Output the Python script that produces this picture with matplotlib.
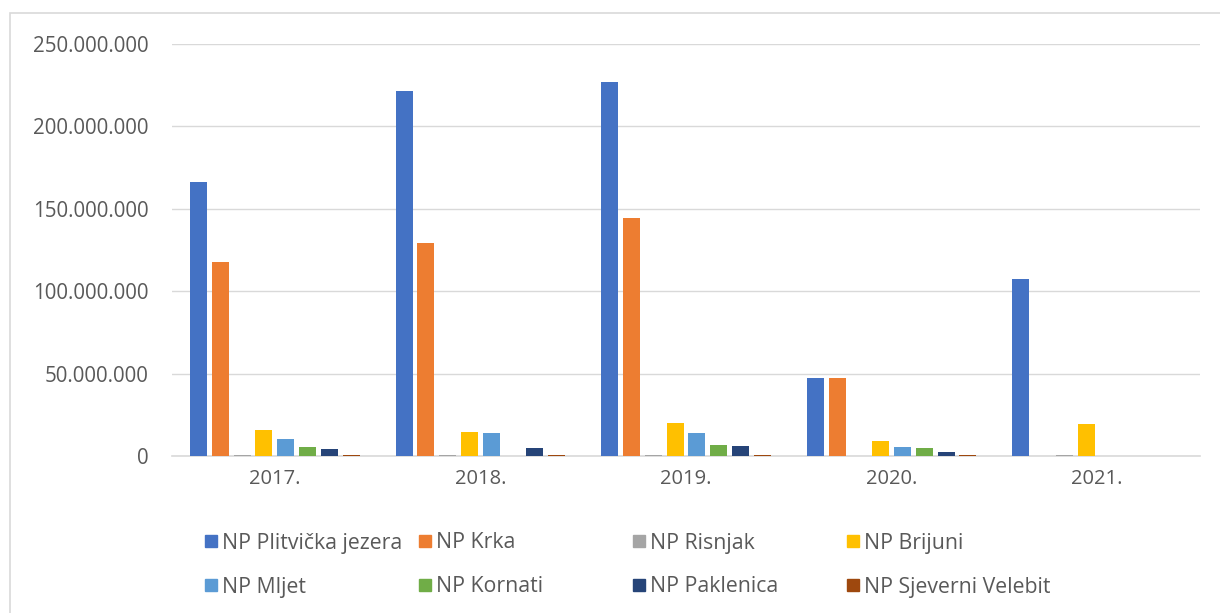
import matplotlib.pyplot as plt
import numpy as np
from matplotlib.patches import Rectangle
from matplotlib.ticker import FuncFormatter, MultipleLocator

plt.rcParams['font.family'] = ['Open Sans', 'DejaVu Sans']

# =========================
# Data
# =========================
godine = ["2017.", "2018.", "2019.", "2020.", "2021."]

parkovi = [
    "NP Plitvička jezera", "NP Krka", "NP Risnjak", "NP Brijuni",
    "NP Mljet", "NP Kornati", "NP Paklenica", "NP Sjeverni Velebit",
]

plitvice = [166_000_000, 221_500_000, 227_000_000, 47_300_000, 107_300_000]
krka = [118_000_000, 129_000_000, 144_500_000, 47_300_000, 0]
risnjak = [400_000, 400_000, 400_000, 300_000, 500_000]
brijuni = [15_800_000, 14_800_000, 19_900_000, 9_200_000, 19_300_000]
mljet = [10_200_000, 14_000_000, 14_200_000, 5_500_000, 0]
kornati = [5_300_000, 0, 6_500_000, 4_700_000, 0]
paklenica = [4_300_000, 4_900_000, 6_100_000, 2_500_000, 0]
sjeverni_velebit = [400_000, 500_000, 500_000, 400_000, 0]

serije = [plitvice, krka, risnjak, brijuni, mljet, kornati, paklenica, sjeverni_velebit]

boje = ["#4472C4", "#ED7D31", "#A5A5A5", "#FFC000",
        "#5B9BD5", "#70AD47", "#264478", "#9E480E"]

TEXT_COLOR = "#595959"
GRID_COLOR = "#D9D9D9"


def format_tocke(v, pos):
    return f"{int(v):,}".replace(",", ".")


def main():
    fig = plt.figure(figsize=(12.2, 6.13), dpi=100)
    W, H = 1220, 613

    # okvir grafikona
    fig.patches.append(Rectangle((10 / W, -0.1), 1.2, 1.1 - 13 / H, transform=fig.transFigure,
                                 fill=False, edgecolor=GRID_COLOR, linewidth=1.2))

    ax = fig.add_axes([172 / W, 1 - 456 / H, (1200 - 172) / W, (456 - 44) / H])

    x = np.arange(len(godine))
    korak = 0.106
    sirina = 0.083
    for i, (naziv, vrijednosti) in enumerate(zip(parkovi, serije)):
        ax.bar(x + (i - 3.5) * korak, vrijednosti, width=sirina,
               color=boje[i], label=naziv, zorder=3)

    ax.set_xlim(-0.5, len(godine) - 0.5)
    ax.set_ylim(0, 250_000_000)
    ax.yaxis.set_major_locator(MultipleLocator(50_000_000))
    ax.yaxis.set_major_formatter(FuncFormatter(format_tocke))
    ax.set_xticks(x)
    ax.set_xticklabels(godine)

    ax.grid(axis='y', color=GRID_COLOR, linewidth=1.0, zorder=0)
    for s in ['top', 'right', 'left']:
        ax.spines[s].set_visible(False)
    ax.spines['bottom'].set_color(GRID_COLOR)
    ax.spines['bottom'].set_linewidth(1.2)

    ax.tick_params(axis='both', length=0, colors=TEXT_COLOR)
    ax.tick_params(axis='y', pad=17, labelsize=14.8)
    ax.tick_params(axis='x', pad=9, labelsize=14.5)

    # legenda (Excel stil: jednake širine stupaca)
    for i, naziv in enumerate(parkovi):
        px = 205 + (i % 4) * 214
        py = 541 + (i // 4) * 44
        fig.patches.append(Rectangle((px / W, 1 - (py + 6) / H), 12 / W, 12 / H,
                                     transform=fig.transFigure, color=boje[i]))
        fig.text((px + 17) / W, 1 - (py + 2) / H, naziv, fontsize=15.3,
                 color=TEXT_COLOR, va='center', ha='left')

    fig.savefig("out.png", dpi=100)


if __name__ == "__main__":
    main()
